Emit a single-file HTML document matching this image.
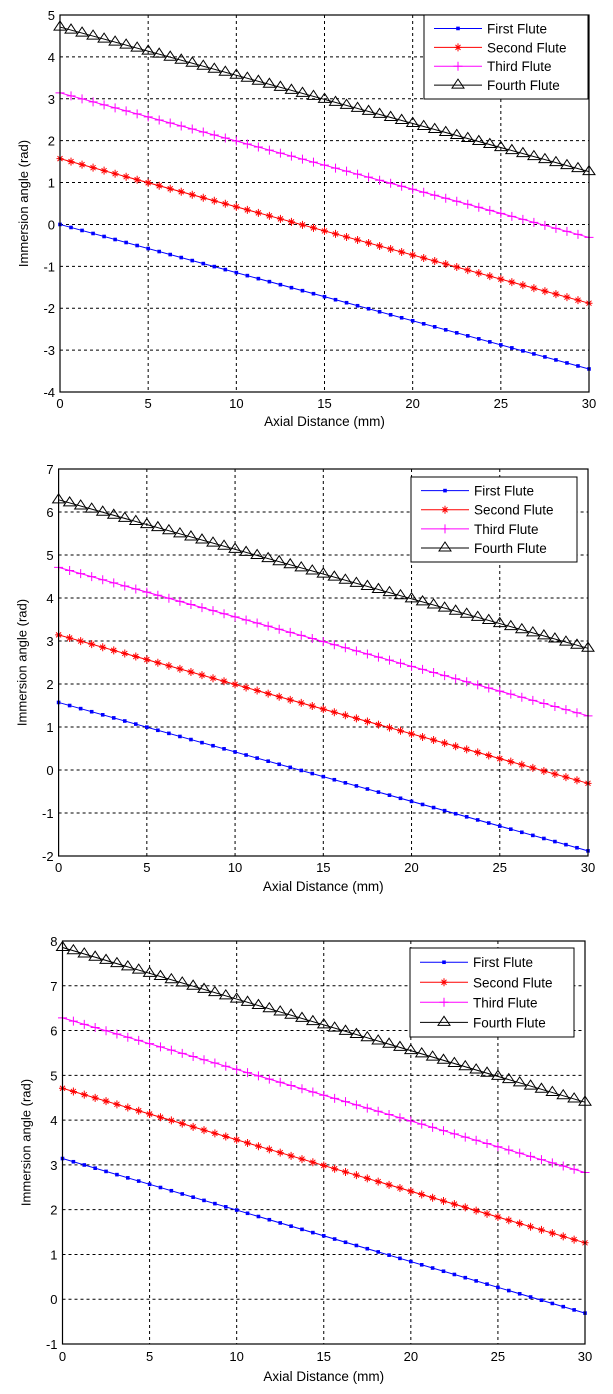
<!DOCTYPE html>
<html><head><meta charset="utf-8"><style>
body{margin:0;background:#fff;}
svg{display:block;font-family:"Liberation Sans",Arial,sans-serif;}
</style></head><body>
<svg id="s" width="613" height="1394"></svg>
<script>
const seriesNames = ["First Flute","Second Flute","Third Flute","Fourth Flute"];
const xTicks = [0,5,10,15,20,25,30];
const chart1Start = [0,1.571,3.142,4.712];
const chart1End = [-3.45,-1.88,-0.31,1.26];
const chart2Start = [1.571,3.142,4.712,6.283];
const chart2End = [-1.88,-0.31,1.26,2.83];
const chart3Start = [3.142,4.712,6.283,7.854];
const chart3End = [-0.31,1.26,2.83,4.40];
const yTicks1 = [-4,-3,-2,-1,0,1,2,3,4,5];
const yTicks2 = [-2,-1,0,1,2,3,4,5,6,7];
const yTicks3 = [-1,0,1,2,3,4,5,6,7,8];
const nPts = 49;
const colors = ["#0000ff","#ff0000","#ff00ff","#000000"];
const NS="http://www.w3.org/2000/svg";
const svg=document.getElementById('s');
function mk(tag,attrs,parent){const e=document.createElementNS(NS,tag);for(const k in attrs)e.setAttribute(k,attrs[k]);(parent||svg).appendChild(e);return e;}
function marker(g,i,x,y){
  if(i===0){mk('rect',{x:x-1.8,y:y-1.8,width:3.6,height:3.6,fill:colors[0]},g);}
  else if(i===1){mk('path',{d:`M${x-3.5},${y}H${x+3.5}M${x},${y-4}V${y+4}M${x-2.5},${y-2.5}L${x+2.5},${y+2.5}M${x-2.5},${y+2.5}L${x+2.5},${y-2.5}`,stroke:colors[1],'stroke-width':1,fill:'none'},g);}
  else if(i===2){mk('path',{d:`M${x-4.5},${y}H${x+4.5}M${x},${y-4.5}V${y+4.5}`,stroke:colors[2],'stroke-width':1,fill:'none'},g);}
  else {mk('path',{d:`M${x},${y-6}L${x+6},${y+3}L${x-6},${y+3}Z`,stroke:'#000','stroke-width':1,fill:'none'},g);}
}
function chart(cfg){
  const {L,T,R,B,yt,starts,ends,leg,name,xlY,titleY}=cfg;
  const g=mk('g',{});
  
  
  const y0=yt[0],y1=yt[yt.length-1];
  const sx=v=>L+(v-0)/(30-0)*(R-L);
  const sy=v=>B-(v-y0)/(y1-y0)*(B-T);
  const grid=mk('g',{},g);
  
  
  xTicks.forEach(t=>{
    const x=sx(t);
    if(t>0&&t<30)mk('line',{x1:x,y1:T,x2:x,y2:B,stroke:'#000','stroke-dasharray':'3,3','stroke-width':1},grid);
    const tx=mk('text',{x:x,y:xlY,'font-size':13,'text-anchor':'middle'},g);tx.textContent=t;
    
    
  });
  yt.forEach(t=>{
    const y=sy(t);
    if(t>y0&&t<y1)mk('line',{x1:L,y1:y,x2:R,y2:y,stroke:'#000','stroke-dasharray':'3,3','stroke-width':1},grid);
    const tx=mk('text',{x:L-5,y:y+5,'font-size':13,'text-anchor':'end'},g);tx.textContent=t;
    
    
  });
  starts.forEach((s,i)=>{
    const sg=mk('g',{},g);
    
    
    mk('line',{x1:sx(0),y1:sy(s),x2:sx(30),y2:sy(ends[i]),stroke:colors[i],'stroke-width':1},sg);
    for(let k=0;k<nPts;k++){const f=k/(nPts-1);marker(sg,i,sx(30*f),sy(s+(ends[i]-s)*f));}
  });
  const box=mk('rect',{x:L,y:T,width:R-L,height:B-T,fill:'none',stroke:'#000','stroke-width':1.2},g);
  
  
  const [lx,ly,lw,lh]=leg;
  const lg=mk('g',{},g);
  
  
  mk('rect',{x:lx,y:ly,width:lw,height:lh,fill:'#fff',stroke:'#000','stroke-width':1},lg);
  seriesNames.forEach((n,i)=>{
    const yy=ly+13+i*(lh-16)/3.6*1.0*0.9+i*0;
    const rowY=ly+lh*(0.16+i*0.225);
    mk('line',{x1:lx+10,y1:rowY,x2:lx+58,y2:rowY,stroke:colors[i],'stroke-width':1},lg);
    marker(lg,i,lx+34,rowY);
    const t=mk('text',{x:lx+63,y:rowY+5,'font-size':13.5},lg);t.textContent=n;
    
    
  });
  const xt=mk('text',{x:(L+R)/2,y:titleY,'font-size':13.5,'text-anchor':'middle'},g);xt.textContent='Axial Distance (mm)';
  
  
  const cy=(T+B)/2;
  const yl=mk('text',{x:0,y:0,'font-size':13,'text-anchor':'middle',transform:`translate(${L-32},${cy}) rotate(-90)`},g);yl.textContent='Immersion angle  (rad)';
  
  
}
chart({name:'chart-1',L:60,T:15,R:589,B:392,yt:yTicks1,starts:chart1Start,ends:chart1End,leg:[424,15,164,84],xlY:408,titleY:426});
chart({name:'chart-2',L:58.6,T:469,R:588,B:856,yt:yTicks2,starts:chart2Start,ends:chart2End,leg:[411,477,166,85],xlY:872,titleY:891});
chart({name:'chart-3',L:62.5,T:941,R:585,B:1344,yt:yTicks3,starts:chart3Start,ends:chart3End,leg:[410,948,164,89],xlY:1361,titleY:1381});
</script>
</body></html>
